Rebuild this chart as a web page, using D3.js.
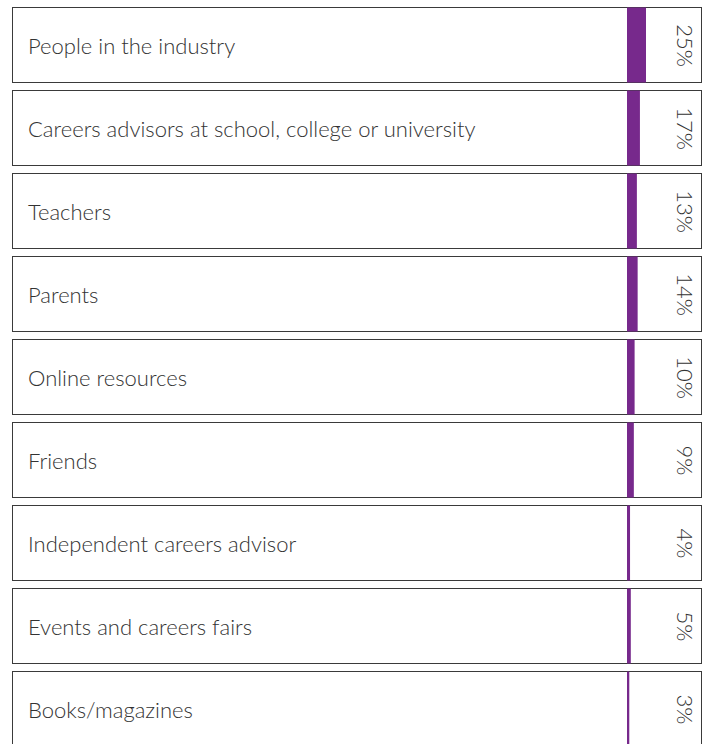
<!DOCTYPE html>
<html>
<head>
<meta charset="utf-8">
<script src="https://cdn.jsdelivr.net/npm/d3@7"></script>
<style>
  body { margin: 0; background: #fff; }
  svg { display: block; }
</style>
</head>
<body>
<div id="chart"></div>
<script>
const categories = [
    "People in the industry",
    "Careers advisors at school, college or university",
    "Teachers",
    "Parents",
    "Online resources",
    "Friends",
    "Independent careers advisor",
    "Events and careers fairs",
    "Books/magazines"
];
const values = [25, 17, 13, 14, 10, 9, 4, 5, 3];
const valueLabels = ["25%", "17%", "13%", "14%", "10%", "9%", "4%", "5%", "3%"];

const width = 710;
const height = 744;
const boxLeft = 12.5;
const boxRight = 701.5;
const barStart = 627;

const svg = d3.select("#chart")
    .append("svg")
    .attr("width", width)
    .attr("height", height);

// rows: 83px step, 75px boxes
const y = d3.scaleBand()
    .domain(categories)
    .range([7, 746])
    .paddingInner(8 / 83)
    .paddingOuter(0);

// bar width per percent
const x = d3.scaleLinear()
    .domain([0, 100])
    .range([0, 76]);

const rows = svg.selectAll("g.row")
    .data(categories)
    .enter().append("g")
    .attr("class", "row")
    .attr("transform", d => "translate(0," + Math.round(y(d)) + ")");

rows.append("rect")
    .attr("x", boxLeft)
    .attr("y", 0.5)
    .attr("width", boxRight - boxLeft)
    .attr("height", y.bandwidth())
    .attr("fill", "#fff")
    .attr("stroke", "#3a3a3a")
    .attr("stroke-width", 1);

rows.append("rect")
    .attr("x", barStart)
    .attr("y", 0.5)
    .attr("width", (d, i) => x(values[i]))
    .attr("height", y.bandwidth())
    .attr("fill", "#77298c");

rows.append("text")
    .attr("x", 28)
    .attr("y", y.bandwidth() / 2 + 9)
    .style("font-family", "Lato, 'Open Sans', sans-serif")
    .style("font-weight", 300)
    .style("font-size", "22px")
    .style("fill", "#333")
    .text(d => d);

rows.append("text")
    .attr("transform", "translate(682," + (y.bandwidth() / 2 + 1) + ") rotate(90)")
    .attr("text-anchor", "middle")
    .attr("dominant-baseline", "middle")
    .style("font-family", "Lato, 'Open Sans', sans-serif")
    .style("font-weight", 300)
    .style("font-size", "22px")
    .style("fill", "#333")
    .text((d, i) => valueLabels[i]);
</script>
</body>
</html>
